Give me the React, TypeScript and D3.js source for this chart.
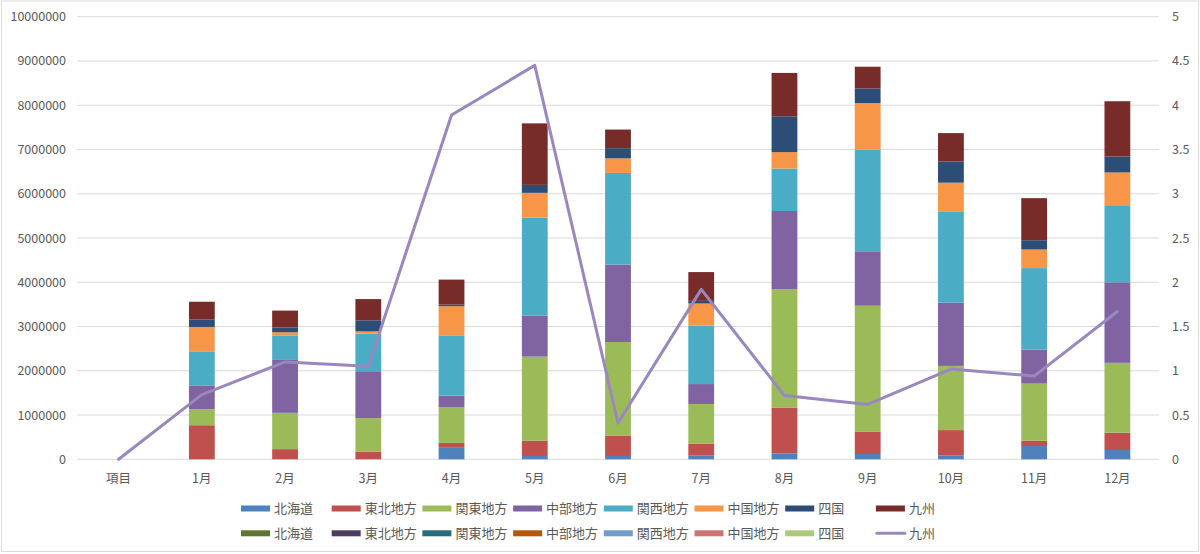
import React from 'react';
import * as d3 from 'd3';

const categories = ['項目', '1月', '2月', '3月', '4月', '5月', '6月', '7月', '8月', '9月', '10月', '11月', '12月'];

const seriesNames = ['北海道', '東北地方', '関東地方', '中部地方', '関西地方', '中国地方', '四国', '九州'];
const hokkaido = [0, 0, 0, 0, 260000, 75000, 75000, 90000, 135000, 120000, 90000, 300000, 210000];
const tohoku = [0, 770000, 230000, 170000, 110000, 345000, 455000, 260000, 1035000, 500000, 570000, 120000, 390000];
const kanto = [0, 360000, 820000, 760000, 810000, 1900000, 2120000, 900000, 2670000, 2850000, 1450000, 1290000, 1580000];
const chubu = [0, 540000, 1210000, 1060000, 260000, 930000, 1750000, 450000, 1770000, 1230000, 1430000, 770000, 1820000];
const kansai = [0, 770000, 540000, 850000, 1360000, 2210000, 2070000, 1320000, 960000, 2300000, 2050000, 1840000, 1740000];
const chugoku = [0, 550000, 70000, 50000, 660000, 560000, 330000, 500000, 370000, 1050000, 660000, 420000, 740000];
const shikoku = [0, 170000, 110000, 250000, 40000, 180000, 230000, 60000, 810000, 330000, 480000, 210000, 360000];
const kyushu = [0, 400000, 380000, 480000, 560000, 1390000, 420000, 650000, 980000, 490000, 640000, 950000, 1250000];
const primaryColors = ['#4F81BD', '#C0504D', '#9BBB59', '#8064A2', '#4BACC6', '#F79646', '#2C4D75', '#772C2A'];

// secondary-axis series (no visible values in the picture)
const secondaryNames = ['北海道', '東北地方', '関東地方', '中部地方', '関西地方', '中国地方', '四国'];
const secondaryZero = [0, 0, 0, 0, 0, 0, 0, 0, 0, 0, 0, 0, 0];
const secondaryColors = ['#5F7530', '#4D3B62', '#276A7C', '#B65708', '#729ACA', '#CD7371', '#AFC97A'];

const kyushuLineName = '九州';
const kyushuLine = [0, 0.73, 1.1, 1.05, 3.89, 4.45, 0.41, 1.92, 0.72, 0.62, 1.02, 0.94, 1.67];
const lineColor = '#9A87BE';

const leftTicks = [0, 1000000, 2000000, 3000000, 4000000, 5000000, 6000000, 7000000, 8000000, 9000000, 10000000];
const rightTicks = [0, 0.5, 1, 1.5, 2, 2.5, 3, 3.5, 4, 4.5, 5];

const W = 1200;
const H = 554;
const plot = { left: 77, right: 1159, top: 16.7, bottom: 459.3 };
const FONT = '"Noto Sans CJK JP", "Noto Sans", sans-serif';
const TEXT = '#595959';
const GRID = '#D9D9D9';

export default function App() {
  const primaryData = [hokkaido, tohoku, kanto, chubu, kansai, chugoku, shikoku, kyushu];
  const x = d3.scaleBand<string>().domain(categories).range([plot.left, plot.right]).paddingInner(0).paddingOuter(0);
  const yL = d3.scaleLinear().domain([0, 10000000]).range([plot.bottom, plot.top]);
  const yR = d3.scaleLinear().domain([0, 5]).range([plot.bottom, plot.top]);
  const barW = x.bandwidth() * 0.31;

  const rows = categories.map((c, i) => {
    const r: any = { cat: c };
    seriesNames.forEach((n, k) => (r['p' + k] = primaryData[k][i]));
    secondaryNames.forEach((n, k) => (r['s' + k] = secondaryZero[i]));
    return r;
  });
  const stackP = d3.stack<any>().keys(seriesNames.map((_, k) => 'p' + k))(rows);
  const stackS = d3.stack<any>().keys(secondaryNames.map((_, k) => 's' + k))(rows);

  const line = d3
    .line<number>()
    .x((_, i) => (x(categories[i]) as number) + x.bandwidth() / 2)
    .y((d) => yR(d));

  const legendX0 = 241;
  const legendStep = 90.7;
  const row1 = 508.5;
  const row2 = 533.3;

  return (
    <svg width={W} height={H} style={{ position: 'absolute', left: 0, top: 0, background: '#fff' }} fontFamily={FONT}>
      <rect x={0} y={0} width={W} height={H} fill="#fff" />
      <rect x={1.5} y={1} width={1197} height={550.5} fill="none" stroke={GRID} strokeWidth={1} />
      {leftTicks.map((t) => (
        <line key={'g' + t} x1={plot.left} x2={plot.right} y1={yL(t)} y2={yL(t)} stroke={GRID} strokeWidth={1} />
      ))}
      {leftTicks.map((t) => (
        <text key={'l' + t} x={66} y={yL(t)} dy="0.36em" textAnchor="end" fontSize={12.5} fill={TEXT}>
          {t}
        </text>
      ))}
      {rightTicks.map((t) => (
        <text key={'r' + t} x={1172} y={yR(t)} dy="0.36em" textAnchor="start" fontSize={12.5} fill={TEXT}>
          {String(t)}
        </text>
      ))}
      {categories.map((c) => (
        <text key={'c' + c} x={(x(c) as number) + x.bandwidth() / 2} y={478} dy="0.36em" textAnchor="middle" fontSize={12.5} fill={TEXT}>
          {c}
        </text>
      ))}
      {stackS.map((s, k) => (
        <g key={'ss' + k} fill={secondaryColors[k]}>
          {s.map((d, i) => (
            <rect key={i} x={(x(categories[i]) as number) + (x.bandwidth() - barW) / 2} width={barW} y={yR(d[1])} height={Math.max(0, yR(d[0]) - yR(d[1]))} />
          ))}
        </g>
      ))}
      {stackP.map((s, k) => (
        <g key={'sp' + k} fill={primaryColors[k]}>
          {s.map((d, i) => (
            <rect key={i} x={(x(categories[i]) as number) + (x.bandwidth() - barW) / 2} width={barW} y={yL(d[1])} height={Math.max(0, yL(d[0]) - yL(d[1]))} />
          ))}
        </g>
      ))}
      <path d={line(kyushuLine) || ''} fill="none" stroke={lineColor} strokeWidth={3} strokeLinejoin="round" strokeLinecap="round" />
      {seriesNames.map((n, k) => (
        <g key={'lg1' + k} transform={`translate(${legendX0 + k * legendStep},${row1})`}>
          <rect x={0} y={-3} width={29} height={6} fill={primaryColors[k]} />
          <text x={33} y={0} dy="0.36em" fontSize={13} fill={TEXT}>
            {n}
          </text>
        </g>
      ))}
      {secondaryNames.map((n, k) => (
        <g key={'lg2' + k} transform={`translate(${legendX0 + k * legendStep},${row2})`}>
          <rect x={0} y={-3} width={29} height={6} fill={secondaryColors[k]} />
          <text x={33} y={0} dy="0.36em" fontSize={13} fill={TEXT}>
            {n}
          </text>
        </g>
      ))}
      <g transform={`translate(${legendX0 + 7 * legendStep},${row2})`}>
        <line x1={1} x2={29} y1={0} y2={0} stroke={lineColor} strokeWidth={3} strokeLinecap="round" />
        <text x={33} y={0} dy="0.36em" fontSize={13} fill={TEXT}>
          {kyushuLineName}
        </text>
      </g>
    </svg>
  );
}
